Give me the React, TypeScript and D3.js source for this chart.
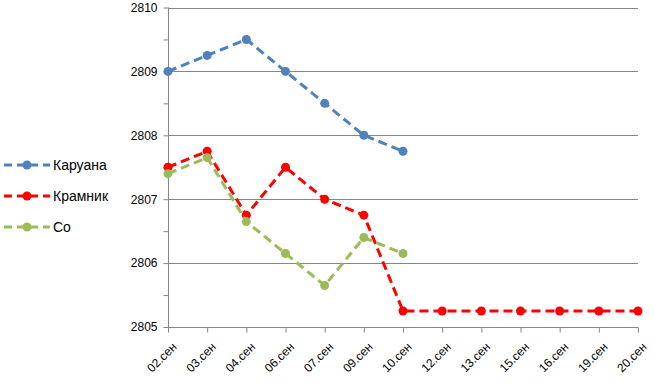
import * as d3 from "d3";
import { useEffect, useRef } from "react";

const categories = ["02.сен", "03.сен", "04.сен", "06.сен", "07.сен", "09.сен", "10.сен", "12.сен", "13.сен", "15.сен", "16.сен", "19.сен", "20.сен"];
const caruana = [2809, 2809.25, 2809.5, 2809, 2808.5, 2808, 2807.75];
const kramnik = [2807.5, 2807.75, 2806.75, 2807.5, 2807, 2806.75, 2805.25, 2805.25, 2805.25, 2805.25, 2805.25, 2805.25, 2805.25];
const so = [2807.4, 2807.65, 2806.65, 2806.15, 2805.65, 2806.4, 2806.15];
const yTicks = [2805, 2806, 2807, 2808, 2809, 2810];

const series = [
  { name: "Каруана", values: caruana, color: "#4F81BD" },
  { name: "Крамник", values: kramnik, color: "#FF0000" },
  { name: "Со", values: so, color: "#9BBB59" },
];

const W = 655;
const H = 388;

export default function App() {
  const ref = useRef<SVGSVGElement>(null);

  useEffect(() => {
    const svg = d3.select(ref.current);
    svg.selectAll("*").remove();
    const font = "'Liberation Sans', Arial, sans-serif";

    // point scale: first/last points sit on the edges of the plot
    const x = d3.scalePoint<string>().domain(categories).range([168, 638]);
    const y = d3.scaleLinear().domain([2805, 2810]).range([327, 7.5]);

    // grid lines
    svg
      .append("g")
      .selectAll("line")
      .data(yTicks.slice(1))
      .enter()
      .append("line")
      .attr("x1", 168)
      .attr("x2", 638)
      .attr("y1", (d) => Math.round(y(d)) + 0.5)
      .attr("y2", (d) => Math.round(y(d)) + 0.5)
      .attr("stroke", "#868686")
      .attr("stroke-width", 1);

    // y axis
    const yAxis = svg
      .append("g")
      .attr("transform", "translate(168.5,0)")
      .call(
        d3
          .axisLeft(y)
          .tickValues(d3.range(2805, 2810.01, 0.5))
          .tickSize(5)
          .tickFormat((d) => (Number(d) % 1 === 0 ? String(d) : ""))
      );
    yAxis.select(".domain").attr("stroke", "#868686").attr("d", `M0,${y(2810)}V${y(2805)}`);
    yAxis.selectAll(".tick line").attr("stroke", "#868686");
    yAxis
      .selectAll(".tick text")
      .attr("x", -11)
      .attr("fill", "#000")
      .style("font-family", font)
      .style("font-size", "12px");

    // x axis
    const xAxis = svg
      .append("g")
      .attr("transform", `translate(0,${Math.round(y(2805)) + 0.5})`)
      .call(d3.axisBottom(x).tickSize(5));
    xAxis.select(".domain").attr("stroke", "#868686").attr("d", `M168,0H638`);
    xAxis.selectAll(".tick line").attr("stroke", "#868686");
    xAxis
      .selectAll(".tick text")
      .attr("fill", "#000")
      .style("font-family", font)
      .style("font-size", "12px")
      .style("text-anchor", "end")
      .attr("x", 0)
      .attr("y", 0)
      .attr("dy", "0")
      .attr("transform", "translate(9,20) rotate(-45)");

    // series lines + markers
    const line = d3
      .line<number>()
      .x((d, i) => x(categories[i]) as number)
      .y((d) => y(d));

    series.forEach((s) => {
      svg
        .append("path")
        .datum(s.values)
        .attr("d", line)
        .attr("fill", "none")
        .attr("stroke", s.color)
        .attr("stroke-width", 3)
        .attr("stroke-dasharray", "9,5");
      svg
        .append("g")
        .selectAll("circle")
        .data(s.values)
        .enter()
        .append("circle")
        .attr("cx", (d, i) => x(categories[i]) as number)
        .attr("cy", (d) => y(d))
        .attr("r", 4.5)
        .attr("fill", s.color);
    });

    // legend
    const legend = svg.append("g");
    series.forEach((s, i) => {
      const ly = 165 + i * 31;
      legend
        .append("line")
        .attr("x1", 4)
        .attr("x2", 50)
        .attr("y1", ly)
        .attr("y2", ly)
        .attr("stroke", s.color)
        .attr("stroke-width", 3)
        .attr("stroke-dasharray", "8,5");
      legend.append("circle").attr("cx", 27).attr("cy", ly).attr("r", 4.5).attr("fill", s.color);
      legend
        .append("text")
        .attr("x", 53)
        .attr("y", ly + 5)
        .attr("fill", "#000")
        .style("font-family", font)
        .style("font-size", "14px")
        .text(s.name);
    });
  }, []);

  return (
    <svg ref={ref} width={W} height={H} style={{ position: "absolute", left: 0, top: 0, background: "#fff" }} />
  );
}
